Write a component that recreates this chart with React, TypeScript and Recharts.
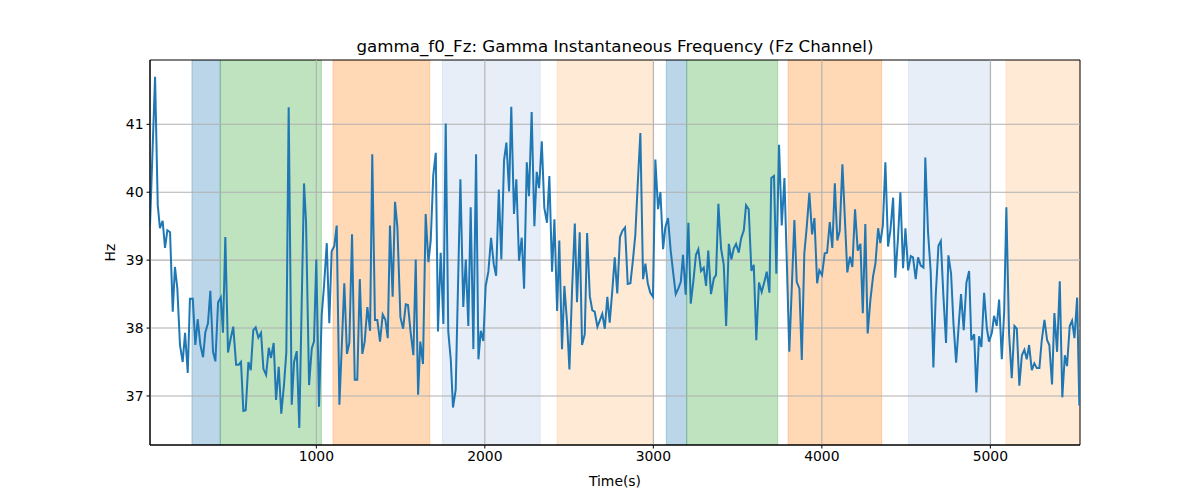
import React from 'react';
import { LineChart, Line, XAxis, YAxis, ReferenceArea, ReferenceLine } from 'recharts';

const times = [
  13, 43, 59, 72, 88, 102, 116, 132, 148, 161,
  175, 191, 207, 221, 237, 250, 267, 282, 296, 312,
  328, 341, 357, 371, 387, 401, 417, 433, 446, 460,
  476, 492, 507, 524, 540, 553, 567, 581, 597, 611,
  626, 640, 656, 672, 686, 702, 718, 731, 747, 761,
  777, 792, 808, 822, 836, 854, 868, 884, 899, 927,
  939, 957, 973, 986, 1000, 1016, 1032, 1046, 1062, 1077,
  1091, 1107, 1121, 1137, 1153, 1166, 1182, 1196, 1212, 1228,
  1243, 1258, 1273, 1287, 1303, 1319, 1332, 1348, 1362, 1378,
  1394, 1410, 1424, 1437, 1453, 1467, 1481, 1499, 1515, 1531,
  1544, 1560, 1576, 1590, 1604, 1617, 1633, 1649, 1665, 1679,
  1694, 1709, 1722, 1738, 1754, 1768, 1783, 1798, 1811, 1827,
  1855, 1872, 1887, 1902, 1916, 1932, 1948, 1962, 1976, 1991,
  2005, 2021, 2037, 2053, 2067, 2083, 2098, 2114, 2128, 2144,
  2157, 2173, 2187, 2203, 2219, 2233, 2249, 2262, 2278, 2294,
  2308, 2322, 2338, 2353, 2369, 2383, 2399, 2413, 2429, 2442,
  2458, 2472, 2488, 2502, 2518, 2534, 2547, 2563, 2577, 2593,
  2607, 2623, 2638, 2652, 2668, 2682, 2697, 2712, 2727, 2741,
  2757, 2771, 2786, 2802, 2816, 2832, 2848, 2864, 2878, 2893,
  2908, 2923, 2939, 2953, 2967, 2982, 2998, 3012, 3028, 3042,
  3058, 3071, 3087, 3103, 3117, 3133, 3148, 3163, 3176, 3192,
  3208, 3222, 3237, 3253, 3267, 3283, 3299, 3313, 3326, 3342,
  3359, 3372, 3386, 3402, 3418, 3432, 3448, 3463, 3477, 3491,
  3507, 3521, 3537, 3550, 3566, 3582, 3596, 3611, 3627, 3643,
  3659, 3673, 3689, 3700, 3716, 3730, 3746, 3762, 3778, 3807,
  3837, 3851, 3867, 3881, 3896, 3910, 3926, 3942, 3956, 3972,
  3985, 4001, 4017, 4031, 4047, 4062, 4077, 4092, 4106, 4122,
  4138, 4151, 4167, 4181, 4197, 4213, 4229, 4243, 4258, 4272,
  4288, 4304, 4318, 4334, 4347, 4362, 4377, 4393, 4407, 4423,
  4436, 4451, 4466, 4482, 4496, 4512, 4528, 4541, 4557, 4571,
  4587, 4603, 4614, 4630, 4646, 4662, 4676, 4692, 4706, 4721,
  4737, 4751, 4767, 4781, 4797, 4813, 4826, 4842, 4858, 4874,
  4887, 4904, 4917, 4933, 4947, 4963, 4979, 4992, 5009, 5022,
  5038, 5052, 5068, 5082, 5095, 5111, 5127, 5143, 5157, 5172,
  5187, 5202, 5216, 5230, 5246, 5261, 5276, 5291, 5305, 5321,
  5337, 5350, 5366, 5380, 5396, 5412, 5427, 5442, 5455, 5471,
  5485, 5499, 5515, 5528,
];

const hz = [
  39.51, 41.70, 39.81, 39.47, 39.58, 39.18, 39.44, 39.41, 38.24, 38.90,
  38.59, 37.75, 37.50, 37.93, 37.34, 38.43, 38.43, 37.75, 38.13, 37.75,
  37.57, 37.93, 38.07, 38.55, 37.65, 37.51, 38.38, 38.45, 37.93, 39.34,
  37.64, 37.85, 38.02, 37.46, 37.46, 37.50, 36.78, 36.79, 37.50, 37.38,
  37.97, 38.01, 37.86, 37.93, 37.40, 37.31, 37.71, 37.56, 37.78, 36.94,
  37.43, 36.74, 37.16, 37.64, 41.25, 36.87, 37.50, 37.66, 36.53, 40.13,
  39.56, 37.16, 37.70, 37.80, 39.01, 36.84, 38.19, 38.63, 39.25, 38.07,
  39.13, 39.21, 39.51, 36.87, 37.85, 38.66, 37.62, 37.78, 39.38, 37.24,
  37.24, 38.72, 37.62, 37.80, 38.31, 37.96, 40.56, 38.12, 38.12, 37.80,
  38.20, 38.12, 37.85, 39.51, 38.46, 39.86, 39.49, 38.16, 37.99, 38.35,
  38.34, 37.93, 37.60, 39.01, 37.02, 37.80, 37.47, 39.68, 38.97, 39.29,
  40.25, 40.58, 37.95, 39.11, 38.06, 41.01, 37.95, 37.53, 36.83, 37.09,
  40.19, 38.31, 39.01, 38.03, 39.78, 37.69, 40.56, 37.54, 37.96, 37.81,
  38.62, 38.83, 39.33, 38.94, 38.77, 40.04, 39.01, 40.47, 40.73, 40.01,
  41.26, 39.68, 40.19, 38.99, 39.33, 38.58, 40.44, 39.94, 41.18, 39.50,
  40.30, 40.06, 40.75, 39.77, 39.55, 40.24, 38.83, 39.60, 38.25, 39.29,
  37.69, 38.62, 38.08, 37.39, 38.58, 39.54, 38.38, 39.41, 37.75, 37.91,
  39.40, 38.47, 38.26, 38.24, 38.02, 38.11, 38.21, 37.99, 38.46, 38.08,
  38.57, 39.04, 38.51, 39.34, 39.43, 39.48, 38.65, 38.66, 38.98, 39.37,
  40.15, 40.87, 38.72, 38.95, 38.66, 38.52, 38.46, 40.48, 39.75, 40.00,
  39.16, 39.48, 39.62, 39.14, 38.83, 38.50, 38.58, 38.68, 39.08, 38.49,
  39.55, 38.36, 38.68, 39.08, 39.16, 38.84, 38.89, 38.62, 39.14, 38.50,
  38.73, 38.78, 39.83, 39.17, 38.93, 38.03, 39.24, 39.01, 39.17, 39.24,
  39.11, 39.32, 39.44, 39.81, 39.75, 38.84, 38.93, 37.82, 38.67, 38.53,
  38.68, 38.83, 38.52, 40.21, 40.24, 38.80, 40.70, 39.51, 40.21, 37.65,
  39.59, 38.68, 38.58, 37.53, 39.10, 39.48, 39.99, 39.38, 39.62, 38.66,
  38.85, 38.78, 39.10, 39.11, 39.56, 39.18, 40.13, 39.29, 39.43, 40.41,
  39.54, 38.82, 39.05, 38.90, 39.75, 39.14, 39.24, 38.22, 39.53, 37.92,
  38.41, 38.76, 38.95, 39.47, 39.25, 39.51, 40.44, 39.20, 39.44, 39.92,
  38.74, 39.29, 40.00, 38.88, 39.47, 38.85, 39.06, 39.04, 38.72, 39.04,
  38.92, 38.89, 40.51, 39.42, 38.83, 37.42, 38.49, 39.21, 39.28, 38.49,
  37.78, 39.07, 38.80, 38.07, 37.49, 38.07, 38.50, 37.97, 38.67, 38.84,
  37.82, 37.91, 37.05, 37.88, 37.72, 38.52, 38.00, 37.80, 37.93, 38.18,
  38.03, 38.42, 37.54, 38.24, 39.78, 37.92, 37.26, 38.03, 37.99, 37.15,
  37.60, 37.68, 37.54, 37.75, 37.38, 37.48, 37.41, 37.41, 37.82, 38.12,
  37.82, 37.75, 37.17, 38.22, 37.65, 38.69, 36.98, 37.60, 37.44, 38.03,
  38.11, 37.85, 38.45, 36.86,
];

const xTicks = [1000, 2000, 3000, 4000, 5000];
const yTicks = [37, 38, 39, 40, 41];
const xDomain = [13, 5532];
const yDomain = [36.278, 41.947];

const spanStarts = [262, 430, 1099, 1748, 2429, 3077, 3198, 3800, 4514, 5093];
const spanEnds = [430, 1030, 1673, 2328, 3002, 3198, 3738, 4355, 5003, 5532];
const spanColors = [
  '#1f77b4', '#2ca02c', '#ff7f0e', '#aec7e8', '#ffbb78',
  '#1f77b4', '#2ca02c', '#ff7f0e', '#aec7e8', '#ffbb78',
];

const data = times.map((t, i) => ({ t, v: hz[i] }));

const FONT = 'DejaVu Sans';
const GRID = '#b0b0b0';

export default function App() {
  return (
    <div style={{ position: 'absolute', left: 0, top: 0, width: 1200, height: 500, background: '#fff' }}>
      <LineChart
        width={1200}
        height={500}
        data={data}
        margin={{ top: 60, right: 120, bottom: 25, left: 90 }}
        style={{ fontFamily: FONT }}
      >
        {spanStarts.map((s, i) => (
          <ReferenceArea
            key={'a' + i}
            x1={s}
            x2={spanEnds[i]}
            fill={spanColors[i]}
            fillOpacity={0.3}
            stroke={spanColors[i]}
            strokeOpacity={0.3}
            ifOverflow="hidden"
          />
        ))}
        {xTicks.map((t) => (
          <ReferenceLine key={'gx' + t} x={t} stroke={GRID} strokeWidth={1.1} />
        ))}
        {yTicks.map((t) => (
          <ReferenceLine key={'gy' + t} y={t} stroke={GRID} strokeWidth={1.1} />
        ))}
        <ReferenceArea
          x1={xDomain[0]}
          x2={xDomain[1]}
          y1={yDomain[0]}
          y2={yDomain[1]}
          fill="none"
          fillOpacity={0}
          stroke="#000"
          strokeWidth={1}
          ifOverflow="visible"
        />
        <XAxis
          dataKey="t"
          type="number"
          domain={xDomain}
          ticks={xTicks}
          allowDataOverflow
          height={30}
          tickSize={3.5}
          tickMargin={3}
          tickLine={{ stroke: '#000' }}
          axisLine={{ stroke: '#000' }}
          tick={{ fill: '#000', fontSize: 13.9, fontFamily: FONT }}
        />
        <YAxis
          type="number"
          domain={yDomain}
          ticks={yTicks}
          allowDataOverflow
          width={60}
          tickSize={3.5}
          tickMargin={3}
          tickLine={{ stroke: '#000' }}
          axisLine={{ stroke: '#000' }}
          tick={{ fill: '#000', fontSize: 13.9, fontFamily: FONT }}
        />
        <Line
          type="linear"
          dataKey="v"
          stroke="#1f77b4"
          strokeWidth={2}
          dot={false}
          isAnimationActive={false}
        />
      </LineChart>
      <svg
        width={1200}
        height={500}
        style={{ position: 'absolute', left: 0, top: 0, pointerEvents: 'none' }}
      >
        <text x={615} y={51.5} textAnchor="middle" fontFamily={FONT} fontSize={16.67} fill="#000">
          gamma_f0_Fz: Gamma Instantaneous Frequency (Fz Channel)
        </text>
        <text x={615} y={486} textAnchor="middle" fontFamily={FONT} fontSize={13.9} fill="#000">
          Time(s)
        </text>
        <text
          transform="translate(115,252.5) rotate(-90)"
          x={0}
          y={0}
          textAnchor="middle"
          fontFamily={FONT}
          fontSize={13.9}
          fill="#000"
        >
          Hz
        </text>
      </svg>
    </div>
  );
}
